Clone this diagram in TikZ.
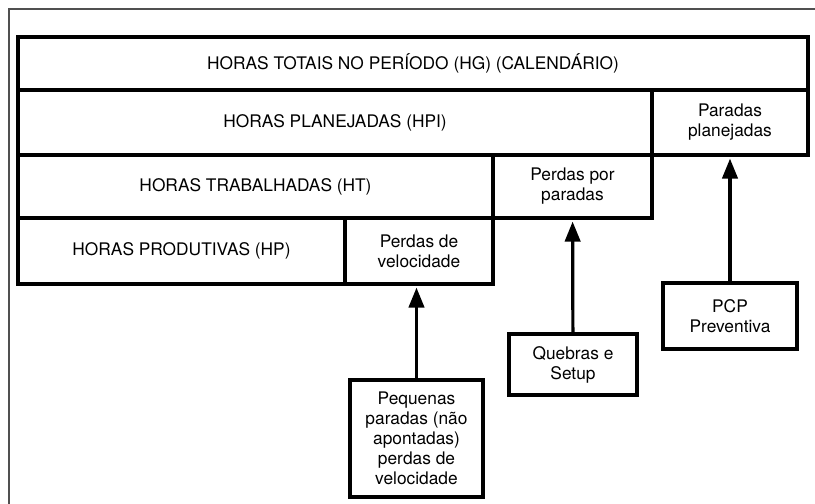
\documentclass[tikz,border=0pt]{standalone}
\usepackage{fontspec}
\setmainfont{TeX Gyre Heros}
\usetikzlibrary{arrows.meta}

\begin{document}
\begin{tikzpicture}[x=0.75pt,y=0.75pt,yscale=-1,xscale=1,
  box/.style={draw, line width=2.4, inner sep=0pt, align=center,
    font=\fontsize{13}{15}\selectfont},
  uparrow/.style={line width=2.4, shorten >=1.5pt, -{Triangle[length=15pt, width=11.5pt]}}]
\useasboundingbox (0,0) rectangle (815,504);

%Outer frame
\draw [color={rgb, 255:red, 80; green, 80; blue, 80 }, line width=1.3] (9,504) -- (9,9) -- (815,9) ;

%Row 1
\node [box, minimum width=592.5pt, minimum height=39.75pt] (hg) at (413,63.5) {HORAS TOTAIS NO PERÍODO (HG) (CALENDÁRIO)};
%Row 2
\node [box, minimum width=475.5pt, minimum height=48.75pt] (hpl) at (335,122.5) {HORAS PLANEJADAS (HPI)};
\node [box, minimum width=117pt, minimum height=48.75pt] (parplan) at (730,122.5) {Paradas\\planejadas};
%Row 3
\node [box, minimum width=356.25pt, minimum height=47.25pt] (ht) at (255.5,186.5) {HORAS TRABALHADAS (HT)};
\node [box, minimum width=119.25pt, minimum height=47.25pt] (perdpar) at (572.5,186.5) {Perdas por\\paradas};
%Row 4
\node [box, minimum width=245.25pt, minimum height=49.5pt] (hp) at (181.5,251) {HORAS PRODUTIVAS (HP)};
\node [box, minimum width=111pt, minimum height=49.5pt] (perdvel) at (419,251) {Perdas de\\velocidade};

%Causes
\node [box, minimum width=99.75pt, minimum height=87.75pt] (peq) at (416.5,438.5) {Pequenas\\paradas (não\\apontadas)\\perdas de\\velocidade};
\node [box, minimum width=96pt, minimum height=45.75pt] (queb) at (573,364.5) {Quebras e\\Setup};
\node [box, minimum width=100.5pt, minimum height=49.5pt] (pcp) at (730,316) {PCP\\Preventiva};

%Arrows
\draw [uparrow] (peq.north -| 416.5,0) -- (perdvel.south -| 416.5,0) ;
\draw [uparrow] (queb) -- (perdpar) ;
\draw [uparrow] (pcp) -- (parplan) ;
\end{tikzpicture}
\end{document}
